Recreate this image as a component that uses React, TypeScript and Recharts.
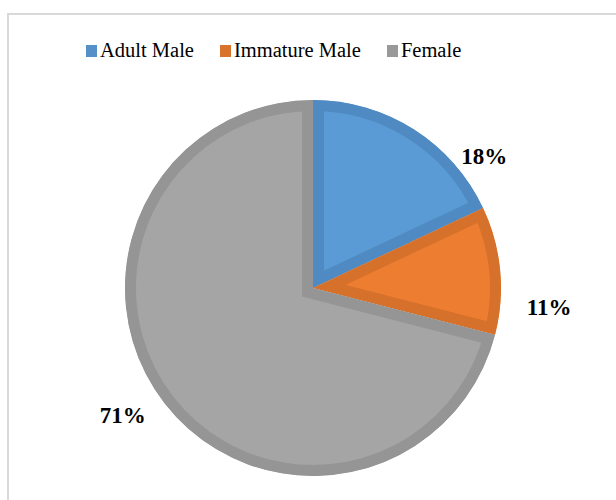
import { PieChart, Pie, Cell, Sector } from "recharts";

const CATEGORIES = ["Adult Male", "Immature Male", "Female"];
const SHARES = [18, 11, 71];

const FILLS = ["#5b9bd5", "#ed7d31", "#a5a5a5"];
const BORDERS = ["#4f8ac2", "#d6712b", "#959595"];
const LEGEND_SWATCH = ["#5590c8", "#d9722b", "#999999"];

const SERIF = "'Times New Roman', 'Liberation Serif', Tinos, serif";

// nudge labels off the mid-angle like Excel's "best fit"
const LABEL_NUDGE = [
  { da: -20, dr: 28 },
  { da: -10, dr: 49 },
  { da: -4, dr: 41 },
];

const data = CATEGORIES.map((name, i) => ({ name, value: SHARES[i] }));

const RADIAN = Math.PI / 180;

// sector with a border drawn only on the inside of the slice
function InsetSector(props: any) {
  const { cx, cy, innerRadius, outerRadius, startAngle, endAngle, index } = props;
  const geom = { cx, cy, innerRadius, outerRadius, startAngle, endAngle };
  const id = `slice-clip-${index}`;
  return (
    <g>
      <defs>
        <clipPath id={id}>
          <Sector {...geom} />
        </clipPath>
      </defs>
      <Sector
        {...geom}
        fill={FILLS[index]}
        stroke={BORDERS[index]}
        strokeWidth={22}
        clipPath={`url(#${id})`}
      />
    </g>
  );
}

function renderLabel(props: any) {
  const { cx, cy, midAngle, outerRadius, index, value } = props;
  const nudge = LABEL_NUDGE[index];
  const a = (midAngle + nudge.da) * RADIAN;
  const r = outerRadius + nudge.dr;
  const x = cx + r * Math.cos(a);
  const y = cy - r * Math.sin(a);
  return (
    <text
      x={x}
      y={y}
      textAnchor="middle"
      dominantBaseline="central"
      style={{ fontFamily: SERIF }}
      fontWeight="bold"
      fontSize={23}
      fill="#000"
    >
      {`${value}%`}
    </text>
  );
}

export default function App() {
  return (
    <div
      style={{
        position: "fixed",
        left: 0,
        top: 0,
        width: 616,
        height: 500,
        overflow: "hidden",
        background: "#fff",
      }}
    >
      <div
        style={{
          position: "absolute",
          left: 7,
          top: 13,
          width: 700,
          height: 600,
          border: "2px solid #d9d9d9",
        }}
      />
      <div
        style={{
          position: "absolute",
          left: 86,
          top: 39,
          display: "flex",
          alignItems: "center",
          fontFamily: SERIF,
          fontSize: 20.5,
          color: "#000",
          whiteSpace: "nowrap",
        }}
      >
        {CATEGORIES.map((name, i) => (
          <div
            key={name}
            style={{ display: "flex", alignItems: "center", marginRight: 26 }}
          >
            <span
              style={{
                display: "inline-block",
                width: 11,
                height: 12,
                background: LEGEND_SWATCH[i],
                marginRight: 3,
              }}
            />
            <span>{name}</span>
          </div>
        ))}
      </div>
      <div style={{ position: "absolute", left: 0, top: 0 }}>
        <PieChart
          width={616}
          height={500}
          margin={{ top: 0, right: 0, bottom: 0, left: 0 }}
        >
          <Pie
            data={data}
            dataKey="value"
            nameKey="name"
            cx={313}
            cy={288}
            outerRadius={188}
            startAngle={90}
            endAngle={-270}
            stroke="none"
            shape={InsetSector}
            label={renderLabel}
            labelLine={false}
            isAnimationActive={false}
          >
            {data.map((d, i) => (
              <Cell key={d.name} fill={FILLS[i]} />
            ))}
          </Pie>
        </PieChart>
      </div>
    </div>
  );
}
